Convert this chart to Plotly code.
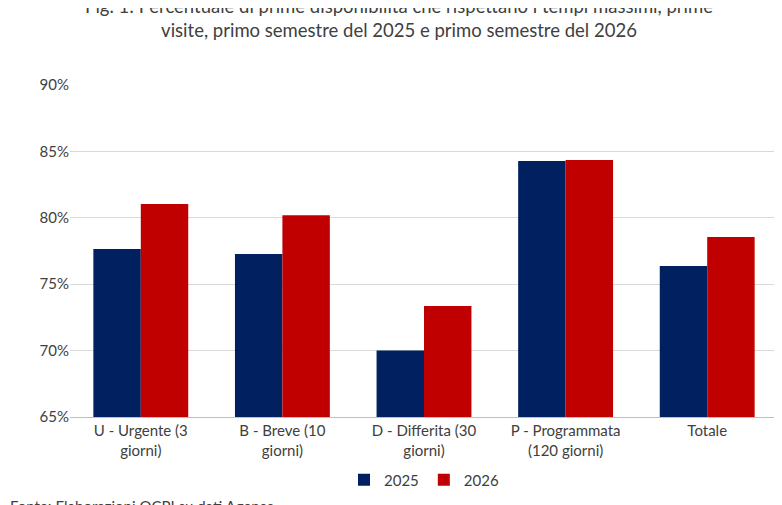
import plotly.graph_objects as go

categories = ["U - Urgente (3<br>giorni)", "B - Breve (10<br>giorni)", "D - Differita (30<br>giorni)",
              "P - Programmata<br>(120 giorni)", "Totale"]
values_2025 = [0.7765, 0.7727, 0.700, 0.8428, 0.7637]
values_2026 = [0.8104, 0.8020, 0.7336, 0.8435, 0.7855]

fig = go.Figure()
fig.add_trace(go.Bar(x=categories, y=values_2025, name="2025", marker_color="#002060",
                     marker_line_width=0))
fig.add_trace(go.Bar(x=categories, y=values_2026, name="2026", marker_color="#C00000",
                     marker_line_width=0))

fig.update_layout(
    width=782, height=505,
    paper_bgcolor="white", plot_bgcolor="white",
    font=dict(family="Lato, Open Sans, sans-serif", size=15, color="#404040"),
    title=dict(text="Fig. 1: Percentuale di prime disponibilità che rispettano i tempi massimi, prime<br>visite, primo semestre del 2025 e primo semestre del 2026",
               x=0.5, xanchor="center", y=0.99, yanchor="top", automargin=False,
               font=dict(size=18.5, color="#404040")),
    margin=dict(l=62, r=12, t=77, b=96, autoexpand=False),
    barmode="group", bargap=0.33, bargroupgap=0,
    yaxis=dict(range=[0.65, 0.90], dtick=0.05, tickformat=".0%", gridcolor="#D9D9D9",
               showline=False, zeroline=False, ticks="", tickfont=dict(size=15)),
    xaxis=dict(showline=True, linecolor="#BFBFBF", tickfont=dict(size=15)),
    legend=dict(orientation="h", x=0.5, xanchor="center", y=-0.14, yanchor="top",
                font=dict(size=15)),
    showlegend=True,
)
fig.add_annotation(text="Fonte: Elaborazioni OCPI su dati Agenas.", xref="paper", yref="paper",
                   x=-0.088, y=-0.235, xanchor="left", yanchor="top", showarrow=False,
                   font=dict(size=15, color="#404040"))
fig.write_html("out.html")
